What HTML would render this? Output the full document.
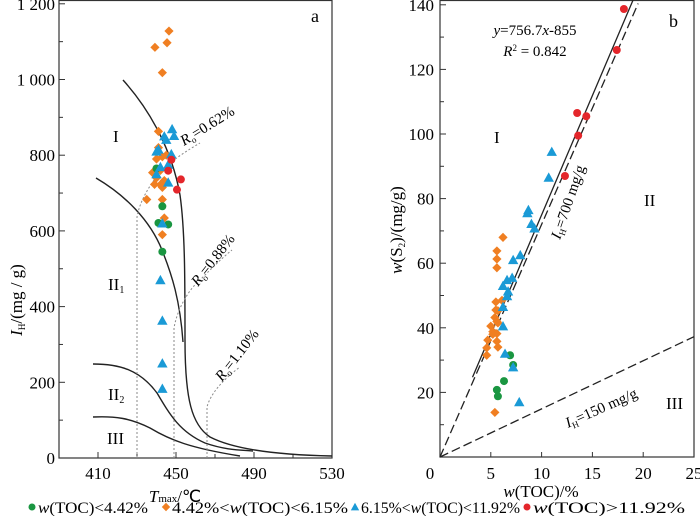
<!DOCTYPE html>
<html><head><meta charset="utf-8"><style>
body{margin:0;background:#fff}
svg{display:block}
svg, svg text, svg tspan{font-family:"Liberation Serif","Times New Roman",serif}
</style></head><body>
<svg id="chart" width="700" height="516" viewBox="0 0 700 516" xmlns="http://www.w3.org/2000/svg" font-family="Liberation Serif, serif">
<g id="left"></g>
<g id="right"></g>
<g id="legend"></g>
</svg>
<script>
// ---- Panel a data (Tmax °C, IH mg/g)
const aXTicks = [410, 450, 490, 530];
const aYTicks = [0, 200, 400, 600, 800, 1000, 1200];
const aYTickLabels = ["0", "200", "400", "600", "800", "1 000", "1 200"];
const aGreenT = [440, 443, 441, 446, 443];
const aGreenIH = [765, 665, 621, 617, 545];
const aOrangeT = [446.4, 439.2, 445.4, 443, 441, 435, 443, 444, 443, 443, 440, 438, 439, 443, 442, 444, 441, 445, 440, 442];
const aOrangeIH = [1128, 1085, 1097, 1018, 863, 683, 683, 634, 590, 796, 790, 754, 723, 715, 722, 733, 820, 800, 740, 760];
const aBlueT = [448, 445, 449, 441, 447.6, 446, 442, 440, 446, 443, 442, 443, 443, 443, 444, 440];
const aBlueIH = [869, 841, 851, 815, 803, 775, 769, 750, 728, 620, 470, 363, 250, 183, 850, 810];
const aRedT = [447.6, 446, 452.5, 450.5];
const aRedIH = [788, 759, 736, 709];

// ---- Panel b data (TOC %, S2 mg/g)
const bXTicks = [0, 5, 10, 15, 20, 25];
const bYTicks = [20, 40, 60, 80, 100, 120, 140];
const bRedX = [18.1, 17.4, 13.5, 14.4, 13.6, 12.3];
const bRedY = [138.7, 126, 106.5, 105.5, 99.5, 87];
const bBlueX = [11.0, 10.7, 8.7, 8.6, 9.0, 9.3, 7.2, 7.9, 6.6, 7.1, 6.2, 6.7, 6.6, 6.2, 6.2, 6.4, 7.2, 7.8];
const bBlueY = [94.5, 86.5, 76.5, 75.5, 72.2, 70.8, 61, 62.5, 54.8, 55.5, 53, 51.3, 49.8, 46.5, 40.5, 32, 27.8, 17];
const bGreenX = [6.9, 7.2, 6.3, 5.6, 5.7];
const bGreenY = [31.5, 28.5, 23.5, 20.8, 18.8];
const bOrangeX = [6.2, 5.6, 5.6, 5.6, 5.5, 6.1, 5.5, 5.7, 5.4, 5.6, 5.7, 5.0, 5.2, 5.6, 5.2, 4.7, 5.6, 5.7, 4.6, 4.6, 5.4];
const bOrangeY = [68, 63.8, 61.3, 58.6, 48, 48.5, 45.5, 45.3, 43.2, 42, 41.5, 40.5, 38.8, 38.2, 38, 36.2, 35.8, 34, 33.8, 31.5, 13.8];

const NS = "http://www.w3.org/2000/svg";
function mk(parent, tag, attrs, text) {
  const e = document.createElementNS(NS, tag);
  for (const k in attrs) e.setAttribute(k, attrs[k]);
  if (tag === "text") e.setAttribute("font-family", "Liberation Serif, serif");
  if (text !== undefined) e.textContent = text;
  parent.appendChild(e);
  return e;
}
const C = {green:"#1a9641", orange:"#f07f22", blue:"#1a9ad6", red:"#e4262b"};
function marker(g, shape, x, y, col, s) {
  let e;
  if (shape === "circle") e = mk(g, "circle", {cx:x, cy:y, r:s||4, fill:col});
  else if (shape === "diamond") { const r=s||4.6; e = mk(g, "polygon", {points:`${x},${y-r} ${x+r},${y} ${x},${y+r} ${x-r},${y}`, fill:col}); }
  else { const r=s||5.2; e = mk(g, "polygon", {points:`${x},${y-r} ${x+r},${y+r*0.8} ${x-r},${y+r*0.8}`, fill:col}); }
  return e;
}

// ---------- Panel a
const L = document.getElementById("left");
const ax = t => 59 + (t - 390) * 1.95;
const ay = v => 458 - v * 0.3785;
mk(L, "rect", {x:59, y:0.5, width:273, height:457.5, fill:"none", stroke:"#333", "stroke-width":1.2});
for (let v = 0; v <= 1200; v += 100) {
  const e = mk(L, "line", {x1:59, x2:v%200?63:65, y1:ay(v), y2:ay(v), stroke:"#333"});
  
  
}
aYTicks.forEach((v, i) => {
  const e = mk(L, "text", {x:55, y:ay(v)+6, "text-anchor":"end", "font-size":17}, aYTickLabels[i]);
  
  
});
for (let t = 390; t <= 530; t += 20) {
  const e = mk(L, "line", {x1:ax(t), x2:ax(t), y1:458, y2:(t-410)%40?454:452, stroke:"#333"});
  
  
}
aXTicks.forEach(t => {
  const e = mk(L, "text", {x:ax(t), y:479, "text-anchor":"middle", "font-size":17}, String(t));
  
  
});
const cs = {fill:"none", stroke:"#222", "stroke-width":1.4};
mk(L, "path", Object.assign({d:"M123,80 C150,110 172,150 180,195 C185,230 185,280 185,340 C185,400 192,425 210,437 C235,450 280,455 332,456",  }, cs));
mk(L, "path", Object.assign({d:"M96,178 C125,195 150,220 162,250 C172,275 180,300 183,342",  }, cs));
mk(L, "path", Object.assign({d:"M93,364 C120,364 140,370 157,393 C170,415 180,432 205,443 C225,450 240,450 253,451",  }, cs));
mk(L, "path", Object.assign({d:"M93,417 C115,416 130,418 150,428 C170,440 190,448 240,456",  }, cs));
const ds = {fill:"none", stroke:"#888", "stroke-width":1, "stroke-dasharray":"2,2"};
mk(L, "path", Object.assign({d:"M137,458 L137,217 C140,200 150,185 160,172 C172,160 188,150 200,143",  }, ds));
mk(L, "path", Object.assign({d:"M174,458 L174,328 C177,310 188,290 200,280 C212,268 222,258 232,250",  }, ds));
mk(L, "path", Object.assign({d:"M207,458 L207,407 C210,395 222,380 240,367",  }, ds));
mk(L, "text", {x:311, y:22, "font-size":18,  }, "a");
mk(L, "text", {x:113, y:142, "font-size":17,  }, "I");
const t1 = mk(L, "text", {x:108, y:290, "font-size":17,  }, "II");
mk(t1, "tspan", {"font-size":10, dy:3}, "1");
const t2 = mk(L, "text", {x:108, y:400, "font-size":17,  }, "II");
mk(t2, "tspan", {"font-size":10, dy:3}, "2");
mk(L, "text", {x:107, y:444, "font-size":17,  }, "III");
function roLabel(x, y, ang, val, name) {
  const t = mk(L, "text", {x:x, y:y, "font-size":15, transform:`rotate(${ang} ${x} ${y})`,  });
  mk(t, "tspan", {"font-style":"italic"}, "R");
  mk(t, "tspan", {"font-size":9, dy:3}, "o");
  mk(t, "tspan", {dy:-3}, "=" + val);
}
roLabel(184, 146, -32, "0.62%", "ro-062-label");
roLabel(198, 287, -52, "0.88%", "ro-088-label");
roLabel(222, 382, -52, "1.10%", "ro-110-label");
const yt = mk(L, "text", {x:22, y:300, "font-size":17, transform:"rotate(-90 22 300)", "text-anchor":"middle",  });
mk(yt, "tspan", {"font-style":"italic"}, "I");
mk(yt, "tspan", {"font-size":9, dy:3}, "H");
mk(yt, "tspan", {dy:-3}, "/(mg / g)");
const xt = mk(L, "text", {x:175, y:502, "font-size":17, "text-anchor":"middle",  });
mk(xt, "tspan", {"font-style":"italic"}, "T");
mk(xt, "tspan", {"font-size":11}, "max");
mk(xt, "tspan", {}, "/℃");
function plotA(T, IH, shape, col, name) {
  T.forEach((t, i) => {
    const e = marker(L, shape, ax(t), ay(IH[i]), col);
    
    
  });
}
plotA(aOrangeT, aOrangeIH, "diamond", C.orange, "point-a-orange");
plotA(aGreenT, aGreenIH, "circle", C.green, "point-a-green");
plotA(aBlueT, aBlueIH, "triangle", C.blue, "point-a-blue");
plotA(aRedT, aRedIH, "circle", C.red, "point-a-red");

// ---------- Panel b
const R = document.getElementById("right");
const bx = v => 440 + v * 10.16;
const by = v => 457 - v * 3.23;
mk(R, "rect", {x:440, y:0.5, width:254, height:456.5, fill:"none", stroke:"#333", "stroke-width":1.2});
for (let v = 10; v <= 140; v += 10) {
  const e = mk(R, "line", {x1:440, x2:v%20?444:446, y1:by(v), y2:by(v), stroke:"#333"});
  
  
}
bYTicks.forEach(v => {
  const e = mk(R, "text", {x:434, y:by(v)+6, "text-anchor":"end", "font-size":17}, String(v));
  
  
});
bXTicks.forEach(v => {
  const e = mk(R, "line", {x1:bx(v), x2:bx(v), y1:457, y2:452, stroke:"#333"});
  
  
  const t = mk(R, "text", {x:v===0?bx(v)-10:bx(v), y:479, "text-anchor":"middle", "font-size":17}, String(v));
  
  
});
mk(R, "line", {x1:bx(3.2), y1:by(3.2*7.39+1.05), x2:bx(19.05), y2:by(19.05*7.39+1.05), stroke:"#222", "stroke-width":1.3,  });
mk(R, "line", {x1:bx(0), y1:by(0), x2:bx(19.5), y2:by(19.5*7.2), stroke:"#222", "stroke-width":1.3, "stroke-dasharray":"9,4",  });
mk(R, "line", {x1:bx(0), y1:by(0), x2:bx(25), y2:by(25*1.49), stroke:"#222", "stroke-width":1.3, "stroke-dasharray":"9,4",  });
const eq = mk(R, "text", {x:535, y:35, "font-size":15, "text-anchor":"middle",  });
mk(eq, "tspan", {"font-style":"italic"}, "y");
mk(eq, "tspan", {}, "=756.7");
mk(eq, "tspan", {"font-style":"italic"}, "x");
mk(eq, "tspan", {}, "-855");
const r2 = mk(R, "text", {x:535, y:56, "font-size":15, "text-anchor":"middle",  });
mk(r2, "tspan", {"font-style":"italic"}, "R");
mk(r2, "tspan", {"font-size":9, dy:-5}, "2");
mk(r2, "tspan", {dy:5}, " = 0.842");
mk(R, "text", {x:669, y:27, "font-size":18,  }, "b");
mk(R, "text", {x:494, y:143, "font-size":17,  }, "I");
mk(R, "text", {x:644, y:206, "font-size":17,  }, "II");
mk(R, "text", {x:666, y:409, "font-size":17,  }, "III");
const l7 = mk(R, "text", {x:560, y:240, "font-size":15, transform:"rotate(-71 560 240)",  });
mk(l7, "tspan", {"font-style":"italic"}, "I");
mk(l7, "tspan", {"font-size":9, dy:3}, "H");
mk(l7, "tspan", {dy:-3}, "=700 mg/g");
const l1 = mk(R, "text", {x:568, y:428, "font-size":15, transform:"rotate(-24 568 428)",  });
mk(l1, "tspan", {"font-style":"italic"}, "I");
mk(l1, "tspan", {"font-size":9, dy:3}, "H");
mk(l1, "tspan", {dy:-3}, "=150 mg/g");
const byt = mk(R, "text", {x:402, y:230, "font-size":17, transform:"rotate(-90 402 230)", "text-anchor":"middle",  });
mk(byt, "tspan", {"font-style":"italic"}, "w");
mk(byt, "tspan", {}, "(S");
mk(byt, "tspan", {"font-size":9, dy:3}, "2");
mk(byt, "tspan", {dy:-3}, ")/(mg/g)");
const bxt = mk(R, "text", {x:541, y:497, "font-size":17, "text-anchor":"middle",  });
mk(bxt, "tspan", {"font-style":"italic"}, "w");
mk(bxt, "tspan", {}, "(TOC)/%");
function plotB(X, Y, shape, col, name) {
  X.forEach((v, i) => {
    const e = marker(R, shape, bx(v), by(Y[i]), col);
    
    
  });
}
plotB(bOrangeX, bOrangeY, "diamond", C.orange, "point-b-orange");
plotB(bGreenX, bGreenY, "circle", C.green, "point-b-green");
plotB(bBlueX, bBlueY, "triangle", C.blue, "point-b-blue");
plotB(bRedX, bRedY, "circle", C.red, "point-b-red");

// ---------- Legend
const G = document.getElementById("legend");
const items = [
  {x:32, w:110, shape:"circle", col:C.green, pre:"", post:"(TOC)<4.42%"},
  {x:166, w:176, shape:"diamond", col:C.orange, pre:"4.42%<", post:"(TOC)<6.15%"},
  {x:355, w:159, shape:"triangle", col:C.blue, pre:"6.15%<", post:"(TOC)<11.92%"},
  {x:527, w:152, shape:"circle", col:C.red, pre:"", post:"(TOC)>11.92%"}
];
items.forEach(it => {
  const m = marker(G, it.shape, it.x, 507, it.col, it.shape==="circle"?3.5:4.2);
  
  
  const t = mk(G, "text", {x:it.x+6, y:513, "font-size":16, textLength:it.w, lengthAdjust:"spacingAndGlyphs"});
  
  
  if (it.pre) mk(t, "tspan", {}, it.pre);
  mk(t, "tspan", {"font-style":"italic"}, "w");
  mk(t, "tspan", {}, it.post);
});
</script>
</body></html>
